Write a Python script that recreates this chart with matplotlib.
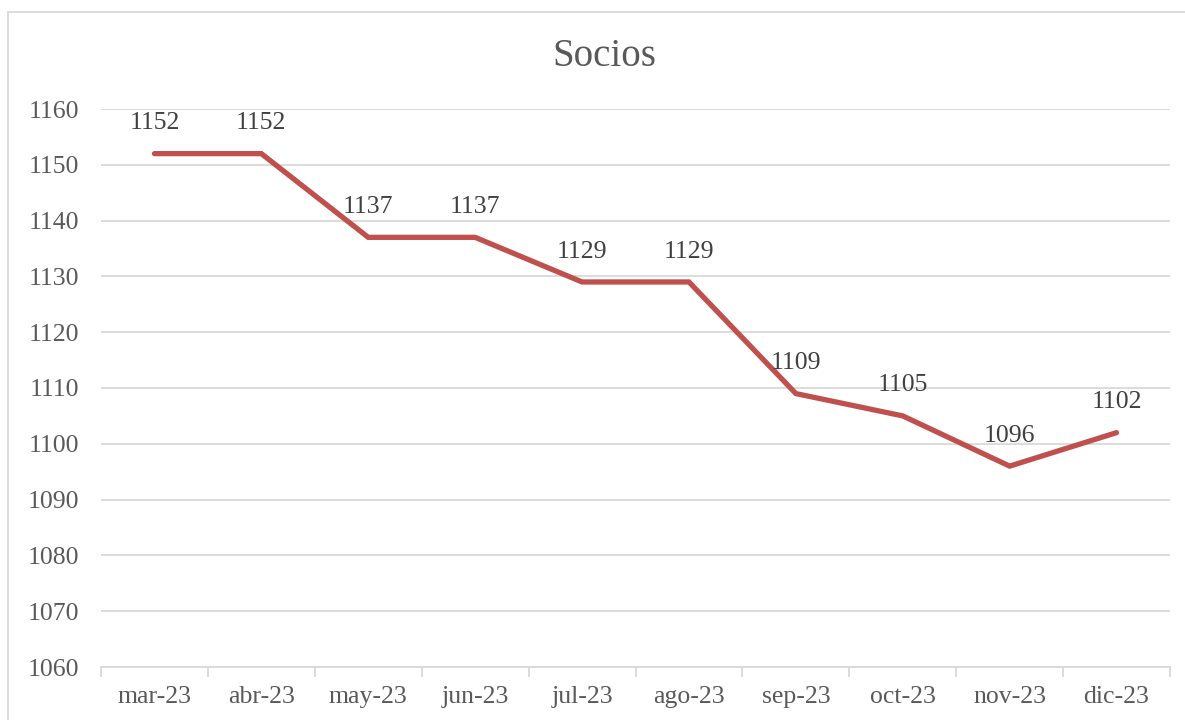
import numpy as np
import matplotlib
matplotlib.use("Agg")
from matplotlib import pyplot as plt
from matplotlib.patches import Rectangle

# datos
meses = ["mar-23", "abr-23", "may-23", "jun-23", "jul-23",
         "ago-23", "sep-23", "oct-23", "nov-23", "dic-23"]
socios = [1152, 1152, 1137, 1137, 1129, 1129, 1109, 1105, 1096, 1102]
y_ticks = list(range(1060, 1161, 10))

plt.rcParams['font.family'] = ['Liberation Serif', 'DejaVu Serif']

fig = plt.figure(figsize=(11.85, 7.2), dpi=100)
ax = fig.add_axes([101/1185, 1-667/720, (1170-101)/1185, (667-109)/720])

x = np.arange(len(meses))
ax.plot(x, socios, color='#C0504D', lw=3.8, solid_capstyle='round',
        solid_joinstyle='miter', zorder=3)

for xi, v in zip(x, socios):
    ax.annotate(str(v), (xi, v), xytext=(0, 14), textcoords='offset points',
                ha='center', va='bottom', fontsize=18.5, color='#404040')

ax.set_xlim(-0.5, len(meses) - 0.5)
ax.set_ylim(y_ticks[0], y_ticks[-1])
ax.set_yticks(y_ticks)
ax.set_xticks(x)
ax.set_xticklabels(meses)
ax.set_xticks(np.arange(-0.5, len(meses), 1), minor=True)

ax.grid(axis='y', color='#D9D9D9', lw=1.3)
ax.set_axisbelow(True)
for s in ['top', 'right', 'left']:
    ax.spines[s].set_visible(False)
ax.spines['bottom'].set_color('#D9D9D9')
ax.spines['bottom'].set_linewidth(1.3)

ax.tick_params(axis='y', length=0, labelsize=18.5, labelcolor='#595959', pad=16)
ax.tick_params(axis='x', which='major', length=0, labelsize=18.5,
               labelcolor='#595959', pad=14)
ax.tick_params(axis='x', which='minor', length=7, width=1.3, color='#D9D9D9')

fig.text(604/1185, 1-56/720, "Socios", ha='center', va='center',
         fontsize=28, color='#595959')

# borde del gráfico
fig.patches.append(Rectangle((8/1185, -0.01), 1.2, 1-12/720 + 0.01,
                             transform=fig.transFigure, fill=False,
                             edgecolor='#D9D9D9', lw=1.3))

fig.savefig('out.png', dpi=100)
